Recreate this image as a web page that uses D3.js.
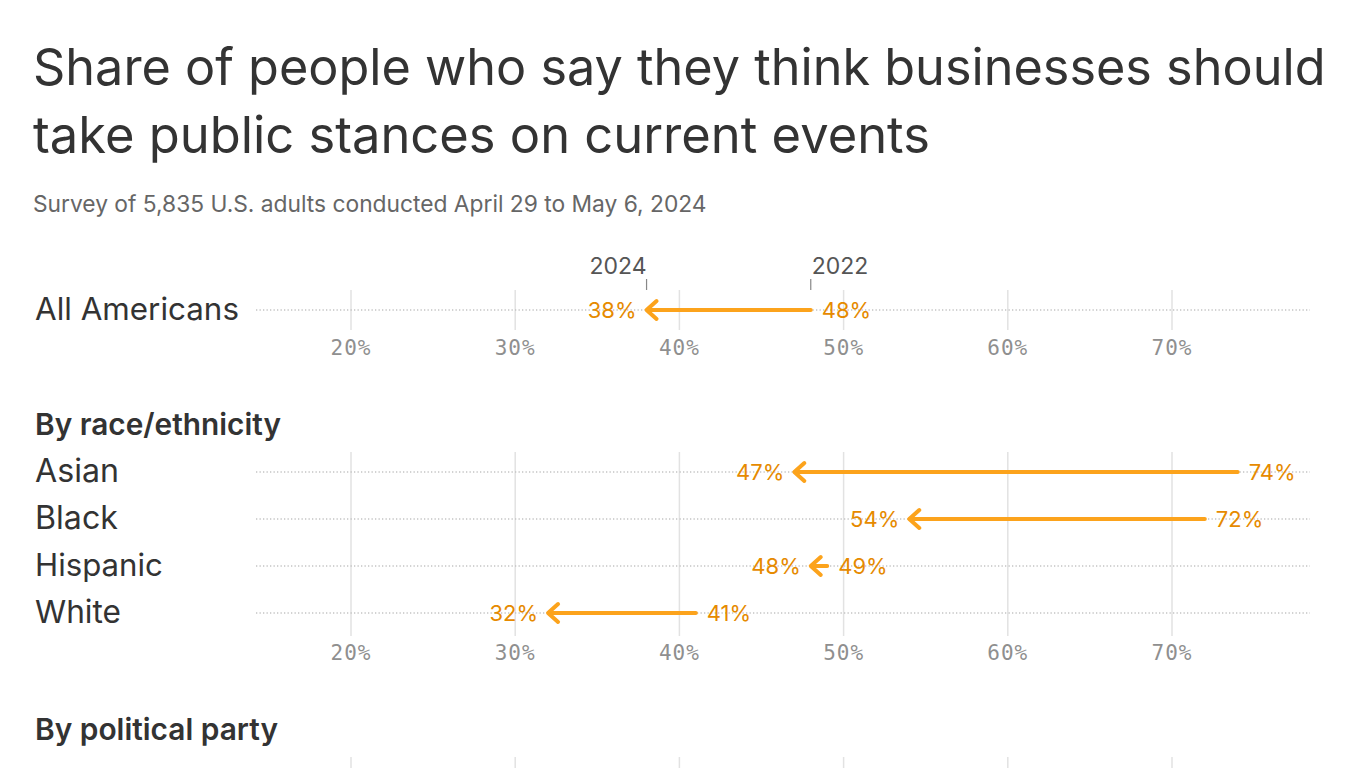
<!DOCTYPE html>
<html>
<head>
<meta charset="utf-8">
<script src="https://cdn.jsdelivr.net/npm/d3@7"></script>
<style>
  html, body { margin: 0; padding: 0; background: #fff; }
  svg { display: block; }
</style>
</head>
<body>
<svg id="chart" width="1366" height="768"></svg>
<script>
// ---- Data ----
const title = ["Share of people who say they think businesses should", "take public stances on current events"];
const subtitle = "Survey of 5,835 U.S. adults conducted April 29 to May 6, 2024";
const yearLabels = ["2024", "2022"];
const overallGroup = ["All Americans"];
const overall2022 = [48];
const overall2024 = [38];
const raceHeader = "By race/ethnicity";
const raceGroups = ["Asian", "Black", "Hispanic", "White"];
const race2022 = [74, 72, 49, 41];
const race2024 = [47, 54, 48, 32];
const partyHeader = "By political party";
const partyGroups = ["Democrat"];
const tickValues = [20, 30, 40, 50, 60, 70];

// ---- Layout ----
const svg = d3.select("#chart");
const sans = "Inter, 'Noto Sans', sans-serif";
const mono = "'DejaVu Sans Mono', monospace";
const orangeLine = "#fca31c";
const orangeText = "#e68a00";
const ink = "#333333";

const x = d3.scaleLinear().domain([20, 70]).range([351, 1172]);
const rowX0 = 256, rowX1 = 1310;

function fit(sel, targetW) {
  const w = sel.node().getComputedTextLength();
  const fs = parseFloat(sel.attr("font-size"));
  sel.attr("font-size", fs * targetW / w);
  return sel;
}

// Title
const tl = [[title[0], 85, 1293], [title[1], 153, 897]];
tl.forEach(([t, y, w]) => {
  fit(svg.append("text").attr("x", 33).attr("y", y).attr("font-family", sans)
    .attr("font-size", 48).attr("fill", ink).text(t), w);
});
fit(svg.append("text").attr("x", 33).attr("y", 212).attr("font-family", sans)
  .attr("font-size", 20).attr("fill", "#666").text(subtitle), 674);

function panel(groups, v22, v24, rowYs, gridTop, gridBot, axisY, labelWidths) {
  const g = svg.append("g");
  // grid
  g.selectAll(".grid").data(tickValues).join("line")
    .attr("x1", d => x(d)).attr("x2", d => x(d))
    .attr("y1", gridTop).attr("y2", gridBot)
    .attr("stroke", "#e2e2e2").attr("stroke-width", 1.5);
  if (axisY) {
    g.selectAll(".tick").data(tickValues).join("text")
      .attr("x", d => x(d)).attr("y", axisY).attr("text-anchor", "middle")
      .attr("font-family", mono).attr("font-size", 21).attr("letter-spacing", 1)
      .attr("fill", "#8f8f8f").text(d => d + "%");
  }
  groups.forEach((name, i) => {
    const y = rowYs[i];
    g.append("line").attr("x1", rowX0).attr("x2", rowX1).attr("y1", y).attr("y2", y)
      .attr("stroke", "#c4c4c4").attr("stroke-width", 1.3).attr("stroke-dasharray", "1.3,2.2");
    const lbl = g.append("text").attr("x", 35).attr("y", y + 10).attr("font-family", sans)
      .attr("font-size", 28).attr("fill", ink).text(name);
    if (labelWidths) fit(lbl, labelWidths[i]);
    if (v22 && v22[i] != null) {
      const xa = x(v22[i]), xb = x(v24[i]);
      g.append("line").attr("x1", xa).attr("x2", xb + 1).attr("y1", y).attr("y2", y)
        .attr("stroke", orangeLine).attr("stroke-width", 4).attr("stroke-linecap", "round");
      g.append("path")
        .attr("d", `M${xb + 10},${y - 9}L${xb},${y}L${xb + 10},${y + 9}`)
        .attr("fill", "none").attr("stroke", orangeLine).attr("stroke-width", 4)
        .attr("stroke-linecap", "round").attr("stroke-linejoin", "round");
      g.append("text").attr("x", xb - 10).attr("y", y + 8).attr("text-anchor", "end")
        .attr("font-family", sans).attr("font-size", 22).attr("fill", orangeText).text(v24[i] + "%");
      g.append("text").attr("x", xa + 11).attr("y", y + 8).attr("text-anchor", "start")
        .attr("font-family", sans).attr("font-size", 22).attr("fill", orangeText).text(v22[i] + "%");
    }
  });
  return g;
}

// Panel 1
const p1 = panel(overallGroup, overall2022, overall2024, [310], 290, 330, 355, [204]);
// year annotations
const yrX = [x(overall2024[0]), x(overall2022[0])];
yearLabels.forEach((t, i) => {
  svg.append("line").attr("x1", yrX[i]).attr("x2", yrX[i]).attr("y1", 279).attr("y2", 290)
    .attr("stroke", "#888").attr("stroke-width", 1.2);
  svg.append("text").attr("x", yrX[i] + (i === 0 ? 0 : 1)).attr("y", 274)
    .attr("text-anchor", i === 0 ? "end" : "start")
    .attr("font-family", sans).attr("font-size", 23).attr("fill", "#555").text(t);
});

// Panel 2
fit(svg.append("text").attr("x", 35).attr("y", 435).attr("font-family", sans)
  .attr("font-weight", 600).attr("font-size", 28).attr("fill", ink).text(raceHeader), 246);
panel(raceGroups, race2022, race2024, [472, 519, 566, 613], 452, 636, 660, [84, 83, 128, 86]);

// Panel 3 (cut off by the frame, as in the original)
fit(svg.append("text").attr("x", 35).attr("y", 740).attr("font-family", sans)
  .attr("font-weight", 600).attr("font-size", 28).attr("fill", ink).text(partyHeader), 243);
panel(partyGroups, null, null, [779], 757, 900, null, null);
</script>
</body>
</html>
